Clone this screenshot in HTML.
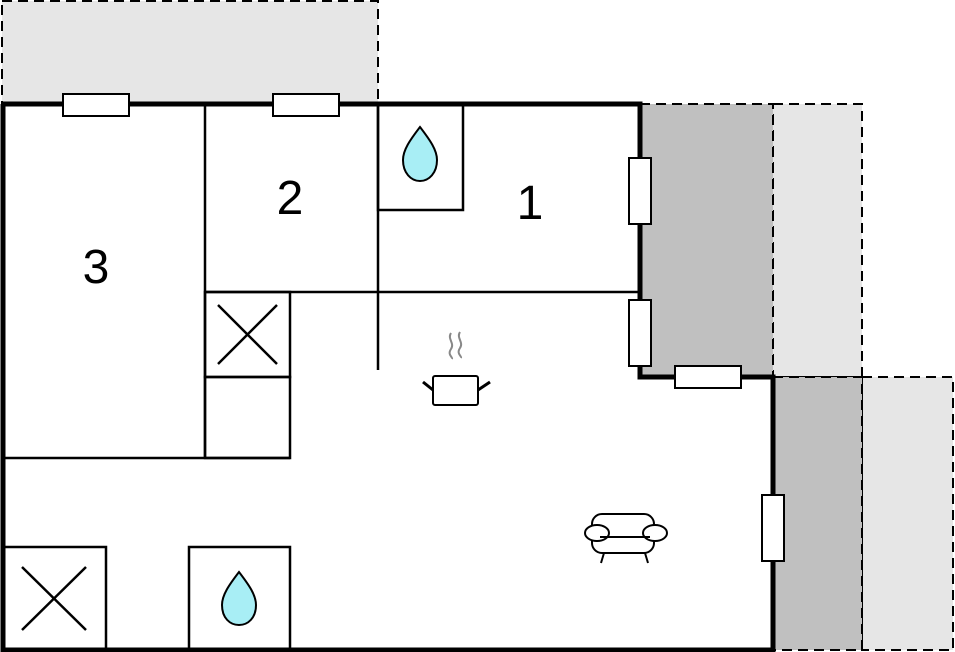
<!DOCTYPE html>
<html><head><style>html,body{margin:0;padding:0;background:#fff;}svg{display:block;}</style></head>
<body>
<svg width="955" height="652" viewBox="0 0 955 652" xmlns="http://www.w3.org/2000/svg">
<g stroke="#000" stroke-width="2" stroke-dasharray="10,6">
<rect x="2" y="1" width="376" height="103" fill="#e6e6e6"/>
<rect x="773" y="104" width="89" height="273" fill="#e6e6e6"/>
<rect x="640" y="104" width="133" height="273" fill="#c0c0c0"/>
<rect x="862" y="377" width="91" height="273" fill="#e6e6e6"/>
<rect x="773" y="377" width="89" height="273" fill="#c0c0c0"/>
</g>
<polygon points="3,104 640,104 640,377 773,377 773,650 3,650" fill="#fff" stroke="none"/>
<g stroke="#000" stroke-width="2.5" fill="none">
<line x1="205" y1="104" x2="205" y2="458"/>
<line x1="3" y1="458" x2="290" y2="458"/>
<rect x="205" y="292" width="85" height="85"/>
<rect x="205" y="377" width="85" height="81"/>
<line x1="218" y1="305" x2="277" y2="364"/><line x1="277" y1="305" x2="218" y2="364"/>
<line x1="205" y1="292" x2="640" y2="292"/>
<line x1="378" y1="104" x2="378" y2="370"/>
<rect x="378" y="104" width="85" height="106"/>
<rect x="3" y="547" width="103" height="103"/>
<line x1="22" y1="567" x2="86" y2="630"/><line x1="86" y1="567" x2="22" y2="630"/>
<rect x="189" y="547" width="101" height="103"/>
</g>
<polyline points="3,104 640,104 640,377 773,377 773,650 3,650 3,104" fill="none" stroke="#000" stroke-width="5"/>
<g fill="#fff" stroke="#000" stroke-width="2">
<rect x="63" y="94" width="66" height="22"/>
<rect x="273" y="94" width="66" height="22"/>
<rect x="629" y="158" width="22" height="66"/>
<rect x="629" y="300" width="22" height="66"/>
<rect x="675" y="366" width="66" height="22"/>
<rect x="762" y="495" width="22" height="66"/>
</g>
<g fill="#a8eef5" stroke="#000" stroke-width="2">
<path d="M420,127 C410,140 403,150 403,160 C403,173 411,181 420,181 C429,181 437,173 437,160 C437,150 430,140 420,127 Z"/>
<path d="M239,572 C229,585 222,595 222,605 C222,618 230,625 239,625 C248,625 256,618 256,605 C256,595 249,585 239,572 Z"/>
</g>
<g font-family="Liberation Sans, sans-serif" font-size="48" text-anchor="middle" fill="#000">
<text x="96" y="283">3</text>
<text x="290" y="214">2</text>
<text x="530" y="219">1</text>
</g>
<g stroke="#888" stroke-width="2" fill="none">
<path d="M451,333 c-4,6 4,10 0,16 c-4,6 2,8 1,10"/>
<path d="M460,332 c-4,6 4,10 0,16 c-4,6 2,8 1,10"/>
</g>
<g stroke="#000" stroke-width="2" fill="#fff">
<rect x="433" y="376" width="45" height="29" rx="2"/>
<line x1="423" y1="382" x2="433" y2="390" stroke-width="3"/>
<line x1="478" y1="390" x2="490" y2="382" stroke-width="3"/>
</g>
<g stroke="#000" stroke-width="2" fill="#fff">
<rect x="592" y="514" width="62" height="39" rx="10"/>
<ellipse cx="597" cy="533" rx="12" ry="8"/>
<ellipse cx="655" cy="533" rx="12" ry="8"/>
<line x1="600" y1="537" x2="650" y2="537"/>
<line x1="604" y1="553" x2="601" y2="563"/>
<line x1="645" y1="553" x2="648" y2="563"/>
</g>
</svg>
</body></html>
